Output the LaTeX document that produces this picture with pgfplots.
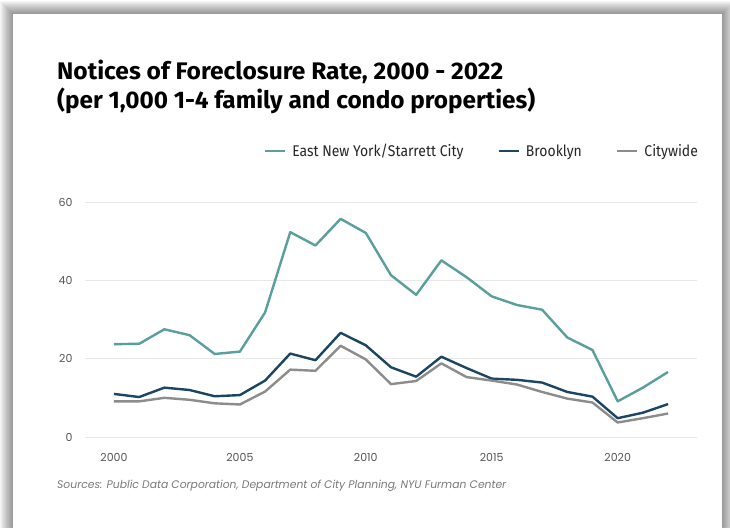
\documentclass[border=0pt]{standalone}
\usepackage{fontspec}
\setmainfont{Poppins}
\newfontfamily\condfont[FakeStretch=0.82]{Fira Sans}
\newfontfamily\legfont[FakeStretch=0.9]{Fira Sans}
\usepackage{pgfplots}
\pgfplotsset{compat=1.18}
\definecolor{eny}{HTML}{5A9E9D}
\definecolor{bk}{HTML}{1C4561}
\definecolor{cw}{HTML}{8C8C8C}
\definecolor{tick}{HTML}{555555}
\definecolor{src}{HTML}{7A7A7A}
\begin{document}
\begin{tikzpicture}
\useasboundingbox (0pt,0pt) rectangle (730pt,527pt);
\fill[white] (0pt,0pt) rectangle (730pt,527pt);
\foreach \i in {0,...,13} {
  \fill[black, opacity=0.035] (13pt-\i pt,-30pt) rectangle (722pt+\i pt,513pt+\i pt);
}
\fill[white] (13pt,-30pt) rectangle (722pt,513pt);
% titles
\node[anchor=base west, inner sep=0] at (57pt,447pt)
  {\resizebox{446pt}{\height}{\fontsize{24}{28}\condfont\bfseries Notices of Foreclosure Rate, 2000 - 2022}};
\node[anchor=base west, inner sep=0] at (57pt,418pt)
  {\resizebox{478pt}{\height}{\fontsize{24}{28}\condfont\bfseries (per 1,000 1-4 family and condo properties)}};
% source
\node[anchor=base west, inner sep=0, text=src] at (57pt,38pt)
  {\resizebox{449pt}{\height}{\fontsize{11}{13}\selectfont\itshape Sources: Public Data Corporation, Department of City Planning, NYU Furman Center}};
\begin{axis}[
  at={(85pt,90pt)}, anchor=south west,
  scale only axis, width=612pt, height=235pt,
  xmin=1998.85, xmax=2023.15, ymin=0, ymax=60,
  clip=false,
  axis line style={draw=none},
  tick style={draw=none},
  ymajorgrids, major grid style={draw=black!9, line width=0.8pt},
  xtick={2000,2005,2010,2015,2020},
  ytick={0,20,40,60},
  xticklabel style={/pgf/number format/1000 sep={}, font=\fontsize{11}{13}\selectfont, text=tick, yshift=-13pt},
  yticklabel style={font=\fontsize{11}{13}\selectfont, text=tick, xshift=-9pt},
  /pgf/number format/assume math mode=true,
  legend columns=3,
  legend style={draw=none, fill=none, at={(1.01,1.217)}, anchor=east,
    font=\fontsize{15.5}{17}\legfont, text=black!85,
    /tikz/every even column/.append style={column sep=32pt},
    /tikz/every odd column/.append style={column sep=4pt}},
  legend image code/.code={\draw[#1, line width=2.6pt] (0pt,0pt) -- (20pt,0pt);},
  every axis plot/.append style={line width=2.4pt, line join=round},
]
\addplot[eny] coordinates {(2000,23.7)(2001,23.8)(2002,27.5)(2003,26.0)(2004,21.2)(2005,21.8)(2006,31.8)(2007,52.3)(2008,48.9)(2009,55.7)(2010,52.1)(2011,41.3)(2012,36.3)(2013,45.1)(2014,40.8)(2015,35.9)(2016,33.7)(2017,32.5)(2018,25.4)(2019,22.2)(2020,9.1)(2021,12.6)(2022,16.6)};
\addlegendentry{East New York/Starrett City}
\addplot[bk] coordinates {(2000,11.0)(2001,10.2)(2002,12.6)(2003,12.0)(2004,10.4)(2005,10.7)(2006,14.4)(2007,21.3)(2008,19.6)(2009,26.6)(2010,23.4)(2011,17.8)(2012,15.4)(2013,20.5)(2014,17.6)(2015,14.9)(2016,14.6)(2017,13.9)(2018,11.5)(2019,10.3)(2020,4.8)(2021,6.2)(2022,8.4)};
\addlegendentry{Brooklyn}
\addplot[cw] coordinates {(2000,9.1)(2001,9.1)(2002,10.0)(2003,9.5)(2004,8.6)(2005,8.3)(2006,11.6)(2007,17.2)(2008,16.9)(2009,23.3)(2010,19.8)(2011,13.5)(2012,14.3)(2013,18.8)(2014,15.3)(2015,14.4)(2016,13.4)(2017,11.5)(2018,9.8)(2019,8.8)(2020,3.7)(2021,4.8)(2022,6.0)};
\addlegendentry{Citywide}
\end{axis}
\end{tikzpicture}
\end{document}
